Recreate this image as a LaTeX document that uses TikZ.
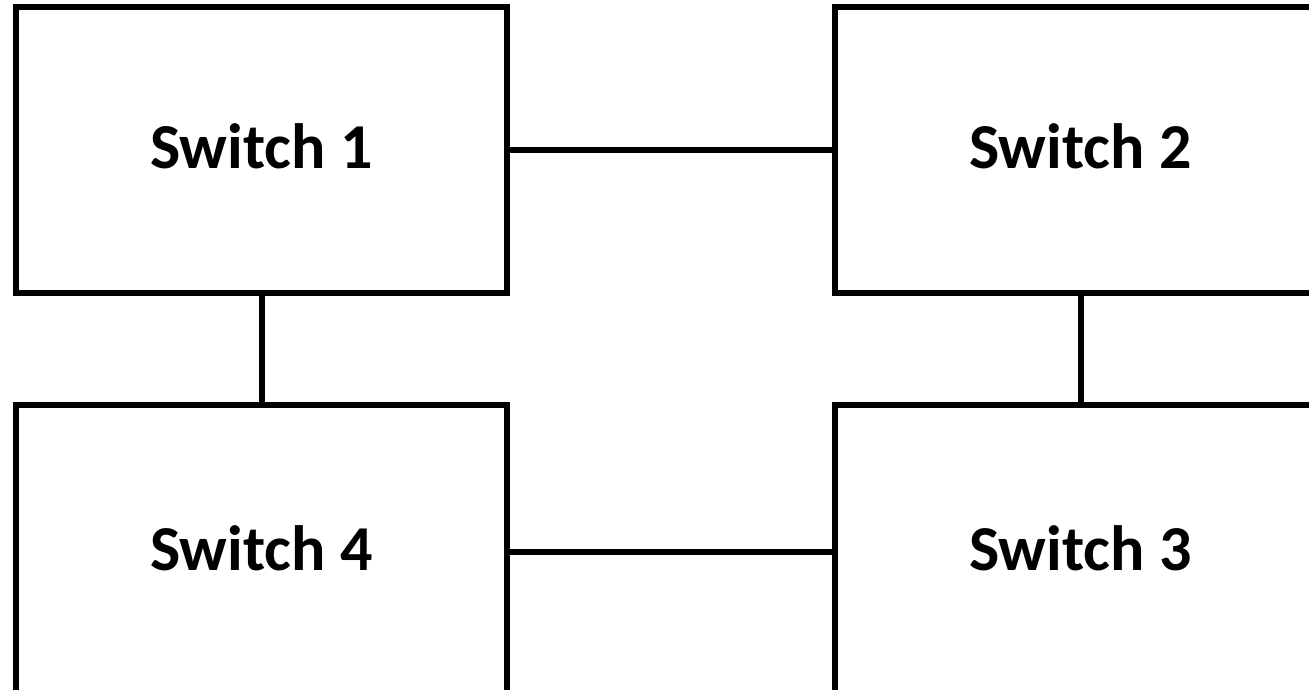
\documentclass[tikz,border=0pt]{standalone}
\usepackage{fontspec}
\setmainfont{Carlito}
\usepackage{tikz}
\usetikzlibrary{positioning}

\begin{document}
\begin{tikzpicture}[-,x=1pt,y=-1pt,line width=6pt,
    switch/.style={draw,rectangle,minimum width=491pt,text depth=8pt,
        font=\fontsize{64}{76}\selectfont\bfseries}]

    % Page
    \useasboundingbox (0,0) rectangle (1309,689);
    \clip (0,0) rectangle (1309,689);

    % The switches
    \node [switch,minimum height=286pt] at (261.5,150) (S1) {Switch 1};
    \node [switch,minimum height=286pt] at (1080.5,150) (S2) {Switch 2};
    \node [switch,minimum height=294pt] at (1080.5,552) (S3) {Switch 3};
    \node [switch,minimum height=294pt] at (261.5,552) (S4) {Switch 4};

    % Links
    \path[-]
    (S1) edge (S2)
    (S2) edge (S3)
    (S3) edge (S4)
    (S4) edge (S1);
\end{tikzpicture}
\end{document}
